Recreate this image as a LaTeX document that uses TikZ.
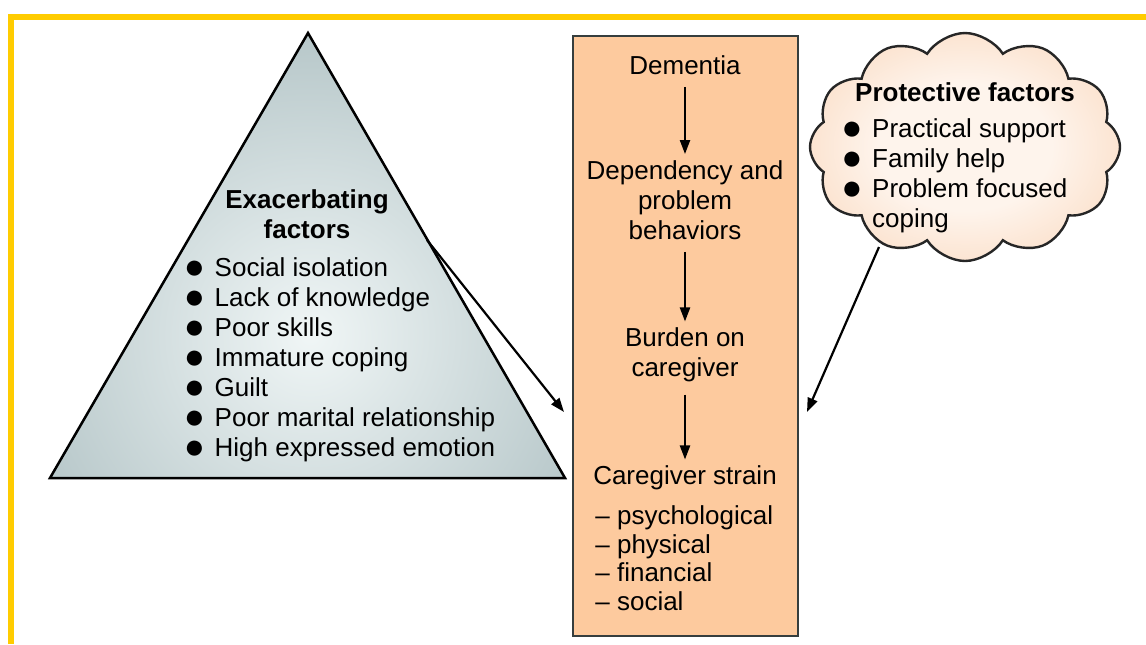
\documentclass[tikz,border=0pt]{standalone}
\usepackage{fontspec}
\setmainfont{Liberation Sans}
\usetikzlibrary{arrows.meta,shapes.symbols}

\definecolor{framey}{HTML}{FFCC00}
\definecolor{peach}{HTML}{FDCA9E}
\definecolor{peachlight}{HTML}{FEF4EC}
\definecolor{peachdark}{HTML}{F7C39A}
\definecolor{slate}{HTML}{869FA3}
\definecolor{slatelight}{HTML}{F0F6F6}
\definecolor{edge}{HTML}{363E3E}
\pgfdeclareradialshading{cloudglow}{\pgfpoint{0bp}{0bp}}{color(0bp)=(peachlight); color(14bp)=(peachlight); color(48bp)=(peachdark); color(50bp)=(peachdark)}
\newcommand\blob{\raisebox{-0.09em}{\scalebox{1.35}{●}}}

\begin{document}
\begin{tikzpicture}[x=0.5pt,y=-0.5pt,
        txt/.style={inner sep=0pt,align=center,font=\fontsize{13}{15}\selectfont},
        head/.style={txt,font=\fontsize{13}{15}\selectfont\bfseries},
        flow/.style={-{Triangle[length=7pt,width=5pt]},line width=1.1pt,shorten <=6pt,shorten >=3pt},
        pointer/.style={-{Triangle[length=7pt,width=5pt]},line width=1.1pt}]
    \useasboundingbox (0,0) rectangle (1146,644);
    \draw[framey,line width=3pt] (11,644) -- (11,17) -- (1146,17);

    % pyramid
    \coordinate (apex) at (308,33);
    \coordinate (baseL) at (50,478);
    \coordinate (baseR) at (565,478);
    \begin{scope}
        \clip (apex) -- (baseR) -- (baseL) -- cycle;
        \shade[inner color=slatelight,outer color=slate] (310,335) circle (560);
    \end{scope}
    \draw[line width=1.25pt] (apex) -- (baseR) -- (baseL) -- cycle;
    \node[head] (exatitle) at (307,214) {Exacerbating\\factors};
    \node[txt,anchor=west] (exalist) at (183.5,360) {\begin{tabular}{@{}l@{\hspace{4.8pt}}l@{}}
        \blob & Social isolation\\
        \blob & Lack of knowledge\\
        \blob & Poor skills\\
        \blob & Immature coping\\
        \blob & Guilt\\
        \blob & Poor marital relationship\\
        \blob & High expressed emotion
    \end{tabular}};

    % middle column
    \node[draw=edge,fill=peach,line width=1.4pt,minimum width=112.5pt,minimum height=300pt,inner sep=0pt] (strainbox) at (685.5,336) {};
    \node[txt] (dementia) at (685,65) {Dementia};
    \node[txt] (depend) at (685,200) {Dependency and\\problem\\behaviors};
    \node[txt] (burden) at (685,355) {Burden on\\caregiver};
    \node[txt] (strain) at (685,478) {Caregiver strain};
    \node[txt,align=left,anchor=west,font=\fontsize{13}{14.25}\selectfont] (kinds) at (595,558) {-- psychological\\-- physical\\-- financial\\-- social};
    \draw[flow] (dementia) -- (depend);
    \draw[flow] (depend) -- (burden);
    \draw[flow] (burden) -- (strain);

    % cloud
    \node[cloud,cloud puffs=12,cloud puff arc=115,aspect=1.37,draw=black!85,line width=1.2pt,shading=cloudglow,minimum width=155pt,minimum height=114pt] (protect) at (965,147) {};
    \node[head] (prottitle) at (965,92) {Protective factors};
    \node[txt,anchor=west] (protlist) at (841,176) {\begin{tabular}{@{}l@{\hspace{4.8pt}}l@{}}
        \blob & Practical support\\
        \blob & Family help\\
        \blob & Problem focused\\
          & coping
    \end{tabular}};

    \coordinate (exaout) at (427,240);
    \coordinate (exain) at (564,412);
    \coordinate (protout) at (879,247);
    \coordinate (protin) at (807,412);
    \draw[pointer] (exaout) -- (exain);
    \draw[pointer] (protout) -- (protin);
\end{tikzpicture}
\end{document}
